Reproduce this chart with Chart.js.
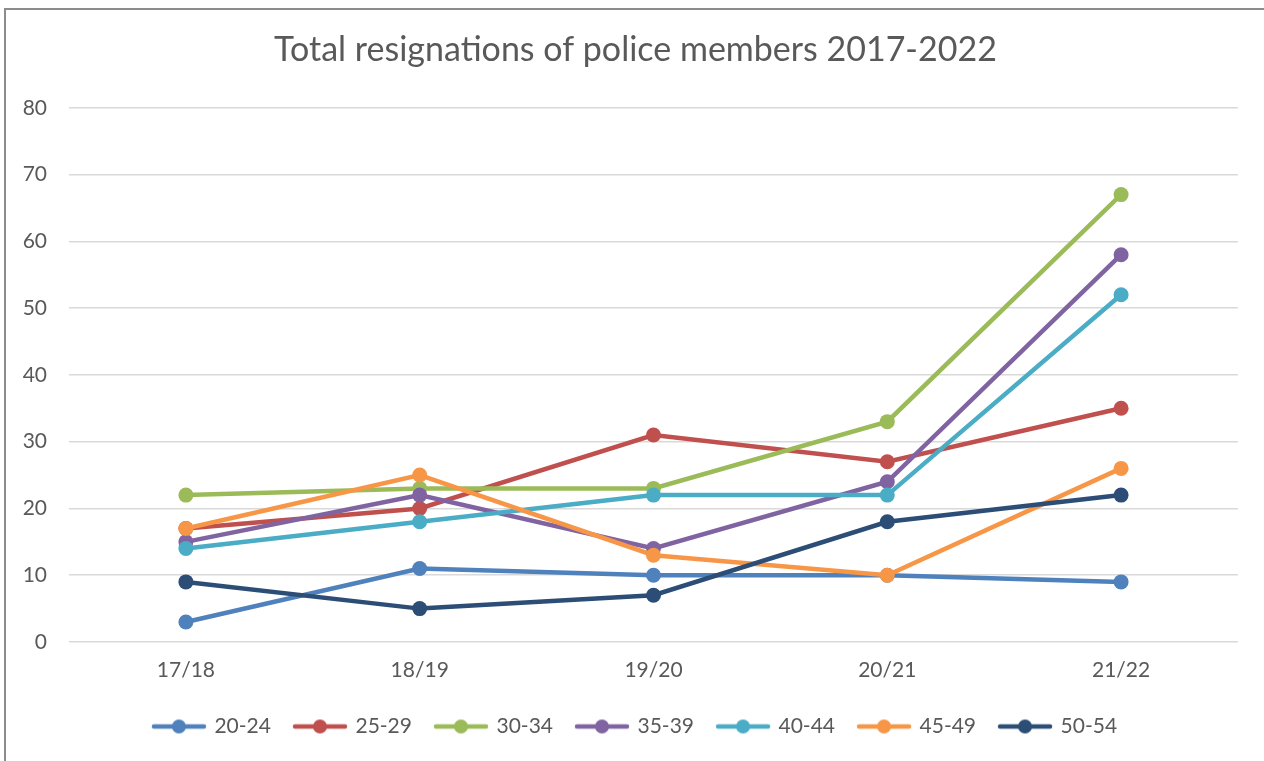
<!DOCTYPE html>
<html>
<head>
<meta charset="utf-8">
<title>Total resignations of police members 2017-2022</title>
<script src="https://cdn.jsdelivr.net/npm/chart.js@4"></script>
<style>
  html, body { margin: 0; padding: 0; background: #fff; overflow: hidden; }
  #wrap { position: relative; width: 1264px; height: 761px; }
  #frame { position: absolute; left: 4px; top: 8px; width: 1400px; height: 900px; border: 2px solid #8c8c8c; }
  #chart { position: absolute; left: 0; top: 0; }
</style>
</head>
<body>
<div id="wrap">
  <div id="frame"></div>
  <canvas id="chart" width="1264" height="761"></canvas>
</div>
<script>
// financial years on the x axis
const years = ["17/18", "18/19", "19/20", "20/21", "21/22"];

// resignations per age group
const ageGroups = ["20-24", "25-29", "30-34", "35-39", "40-44", "45-49", "50-54"];
const age20to24 = [3, 11, 10, 10, 9];
const age25to29 = [17, 20, 31, 27, 35];
const age30to34 = [22, 23, 23, 33, 67];
const age35to39 = [15, 22, 14, 24, 58];
const age40to44 = [14, 18, 22, 22, 52];
const age45to49 = [17, 25, 13, 10, 26];
const age50to54 = [9, 5, 7, 18, 22];

const yTicks = [0, 10, 20, 30, 40, 50, 60, 70, 80];

const seriesValues = [age20to24, age25to29, age30to34, age35to39, age40to44, age45to49, age50to54];
const colors = ["#4f81bd", "#c0504d", "#9bbb59", "#8064a2", "#4bacc6", "#f79646", "#2c4d75"];

const fontFamily = "Lato, 'Noto Sans', sans-serif";
const textColor = "#595959";

// little line-with-dot swatch for the legend
function legendSwatch(color) {
  const c = document.createElement("canvas");
  c.width = 56;
  c.height = 16;
  const g = c.getContext("2d");
  g.strokeStyle = color;
  g.lineWidth = 4.5;
  g.lineCap = "round";
  g.beginPath();
  g.moveTo(3, 8);
  g.lineTo(53, 8);
  g.stroke();
  g.fillStyle = color;
  g.beginPath();
  g.arc(28, 8, 7, 0, Math.PI * 2);
  g.fill();
  return c;
}

const datasets = ageGroups.map((name, i) => ({
  label: name,
  data: seriesValues[i],
  borderColor: colors[i],
  backgroundColor: colors[i],
  borderWidth: 4.5,
  pointRadius: 7.5,
  pointHoverRadius: 7.5,
  pointBorderWidth: 0,
  tension: 0,
  order: ageGroups.length - i // later series drawn on top
}));

const swatches = colors.map(legendSwatch);

// x labels sit partly in the legend band, so let the axis reach the bottom before drawing
const unclipXLabels = {
  id: "unclipXLabels",
  afterLayout: (chart) => { chart.scales.x.bottom = chart.height; }
};

new Chart(document.getElementById("chart"), {
  type: "line",
  data: { labels: years, datasets: datasets },
  plugins: [unclipXLabels],
  options: {
    responsive: false,
    animation: false,
    layout: { padding: { left: 7, right: 0, top: 0, bottom: 14 } },
    plugins: {
      title: {
        display: true,
        text: "Total resignations of police members 2017-2022",
        color: textColor,
        font: { family: fontFamily, size: 34, weight: "normal" },
        padding: { top: 30, bottom: 37 }
      },
      legend: {
        position: "bottom",
        labels: {
          usePointStyle: true,
          pointStyleWidth: 50,
          boxHeight: 16,
          padding: 24,
          color: textColor,
          font: { family: fontFamily, size: 21 },
          generateLabels: (chart) => ageGroups.map((name, i) => ({
            text: name,
            datasetIndex: i,
            pointStyle: swatches[i],
            fillStyle: colors[i],
            strokeStyle: colors[i],
            lineWidth: 0,
            fontColor: textColor,
            hidden: false
          }))
        }
      },
      tooltip: { enabled: false }
    },
    scales: {
      x: {
        offset: true,
        afterFit: (scale) => { scale.height = 50; },
        grid: { display: false, drawTicks: false },
        border: { display: false },
        ticks: { color: textColor, padding: 16, font: { family: fontFamily, size: 21 } }
      },
      y: {
        min: 0,
        max: 80,
        afterFit: (scale) => { scale.width = 62; },
        afterBuildTicks: (scale) => { scale.ticks = yTicks.map(v => ({ value: v })); },
        grid: { color: "#d9d9d9", lineWidth: 1.5, drawTicks: false },
        border: { display: false },
        ticks: { color: textColor, padding: 22, font: { family: fontFamily, size: 21 } }
      },
      // empty right-hand margin
      yRight: {
        position: "right",
        min: 0,
        max: 80,
        afterFit: (scale) => { scale.width = 26; },
        grid: { display: false, drawTicks: false },
        border: { display: false },
        ticks: { display: false }
      }
    }
  }
});
</script>
</body>
</html>
